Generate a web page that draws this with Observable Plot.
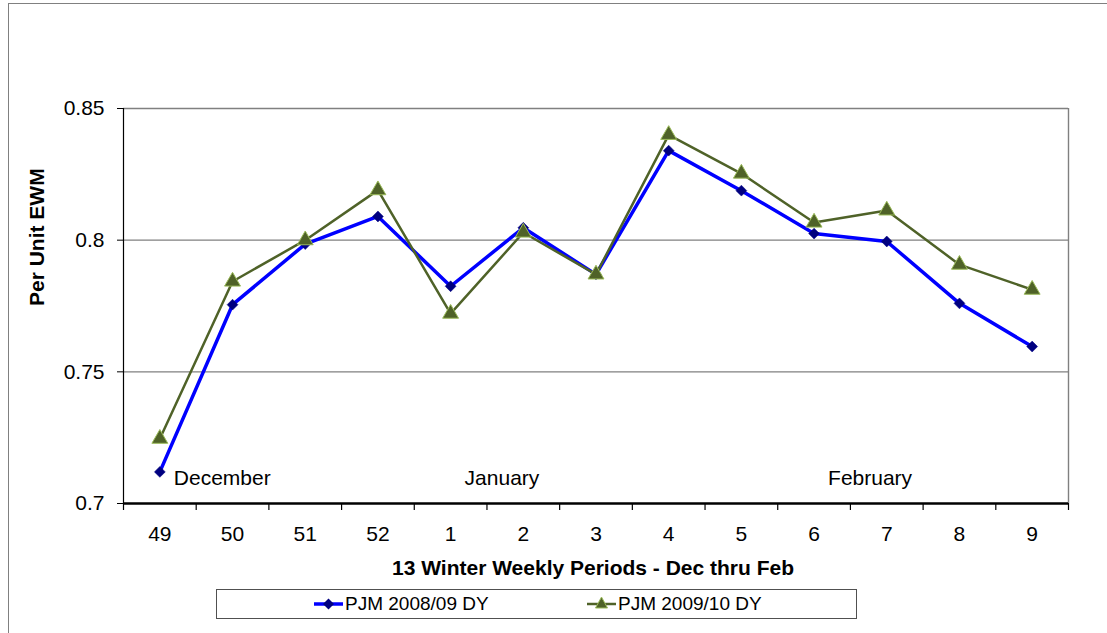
<!DOCTYPE html>
<html>
<head>
<meta charset="utf-8">
<script src="https://cdn.jsdelivr.net/npm/d3@7"></script>
<script src="https://cdn.jsdelivr.net/npm/@observablehq/plot@0.6"></script>
<style>
  html, body { margin: 0; padding: 0; background: #fff; }
  #wrap { position: relative; width: 1107px; height: 633px; overflow: hidden; font-family: "Liberation Sans", Arial, sans-serif; }
  #frame { position: absolute; left: 8px; top: 3px; width: 1300px; height: 1000px; border-left: 1.5px solid #808080; border-top: 1.5px solid #808080; }
  #chart { position: absolute; left: 0; top: 0; }
  #legend { position: absolute; left: 216px; top: 589px; width: 639px; height: 28px; border: 1.5px solid #505050; background: #fff; }
  .item { position: absolute; top: 0; height: 28px; display: flex; align-items: center; font-size: 19px; color: #000; white-space: nowrap; }
  .item svg { margin-right: 2px; }
</style>
</head>
<body>
<div id="wrap">
  <div id="frame"></div>
  <div id="chart"></div>
  <div id="legend"></div>
</div>
<script>
const categories = ["49","50","51","52","1","2","3","4","5","6","7","8","9"];
const pjm0809 = [0.712, 0.7755, 0.7985, 0.809, 0.7825, 0.8047, 0.787, 0.834, 0.8188, 0.8025, 0.7995, 0.776, 0.7596];
const pjm0910 = [0.7246, 0.7843, 0.800, 0.819, 0.7721, 0.8029, 0.787, 0.840, 0.8253, 0.8067, 0.8113, 0.7907, 0.7812];
const seriesNames = ["PJM 2008/09 DY", "PJM 2009/10 DY"];
const months = ["December", "January", "February"];
const monthStart = ["49", "1", "6"];
const yTicks = [0.7, 0.75, 0.8, 0.85];
const yTickLabels = ["0.7", "0.75", "0.8", "0.85"];
const gridValues = [0.75, 0.8, 0.85];
const xTitle = "13 Winter Weekly Periods - Dec thru Feb";
const yTitle = "Per Unit EWM";

const blue = "#0000FF", navy = "#000080", olive = "#4F6228", lightGreen = "#9BBB59";

const rows = categories.map((c, i) => ({cat: c, pos: i + 0.5, a: pjm0809[i], b: pjm0910[i]}));
const monthRows = months.map((m, i) => ({name: m, pos: categories.indexOf(monthStart[i]) + 0.5}));

const chart = Plot.plot({
  width: 1107,
  height: 633,
  marginLeft: 123,
  marginRight: 39,
  marginTop: 108,
  marginBottom: 130,
  style: {fontFamily: "'Liberation Sans', Arial, sans-serif", fontSize: "21px", color: "#000", background: "transparent", overflow: "visible"},
  x: {type: "linear", domain: [0, categories.length]},
  y: {domain: [0.7, 0.85]},
  marks: [
    Plot.ruleY(gridValues, {stroke: "#808080", strokeWidth: 1.4}),
    Plot.ruleX([categories.length], {stroke: "#808080", strokeWidth: 1.4}),
    Plot.axisY({ticks: yTicks, tickFormat: v => yTickLabels[yTicks.indexOf(v)], tickSize: 6, tickPadding: 13, label: null, stroke: "#000", fontSize: 21}),
    Plot.ruleX([0], {stroke: "#000", strokeWidth: 1.2}),
    Plot.axisX({ticks: d3.range(categories.length + 1), tickFormat: () => "", tickSize: 7, label: null, stroke: "#000", strokeWidth: 1.2}),
    Plot.axisX({ticks: rows.map(d => d.pos), tickFormat: t => categories[Math.floor(t)], tickSize: 0, tickPadding: 23, label: null, fontSize: 21}),
    Plot.ruleY([0.7], {stroke: "#000", strokeWidth: 2.5}),
    Plot.text(monthRows, {x: "pos", text: "name", frameAnchor: "bottom", dy: -25, dx: 14, textAnchor: "start", lineAnchor: "middle", fontSize: 21}),
    Plot.line(rows, {x: "pos", y: "a", stroke: blue, strokeWidth: 3.5}),
    Plot.dot(rows, {x: "pos", y: "a", symbol: "diamond2", r: 4.9, fill: navy, stroke: navy, strokeWidth: 0.5}),
    Plot.line(rows, {x: "pos", y: "b", stroke: olive, strokeWidth: 2.5}),
    Plot.dot(rows, {x: "pos", y: "b", symbol: "triangle", r: 5.9, fill: olive, stroke: lightGreen, strokeWidth: 1}),
    Plot.text([xTitle], {frameAnchor: "bottom", dy: 65, dx: -3, fontWeight: "bold", fontSize: 21, lineAnchor: "middle"}),
    Plot.text([yTitle], {frameAnchor: "left", dx: -86, rotate: -90, fontWeight: "bold", fontSize: 21, lineAnchor: "middle"})
  ]
});
document.getElementById("chart").appendChild(chart);

// Legend
const legend = document.getElementById("legend");
const legendItems = [
  {name: seriesNames[0], left: 97, stroke: blue, sw: 3.5, marker: `<path d="M14.5,8.5 L20,14 L14.5,19.5 L9,14 Z" fill="${navy}"/>`},
  {name: seriesNames[1], left: 370, stroke: olive, sw: 2.5, marker: `<path d="M14.5,7 L20.5,18 L8.5,18 Z" fill="${olive}" stroke="${lightGreen}" stroke-width="1"/>`}
];
legendItems.forEach(it => {
  const div = document.createElement("div");
  div.className = "item";
  div.style.left = it.left + "px";
  div.innerHTML = `<svg width="29" height="28" viewBox="0 0 29 28"><line x1="0" x2="29" y1="14" y2="14" stroke="${it.stroke}" stroke-width="${it.sw}"/>${it.marker}</svg><span>${it.name}</span>`;
  legend.appendChild(div);
});
</script>
</body>
</html>
